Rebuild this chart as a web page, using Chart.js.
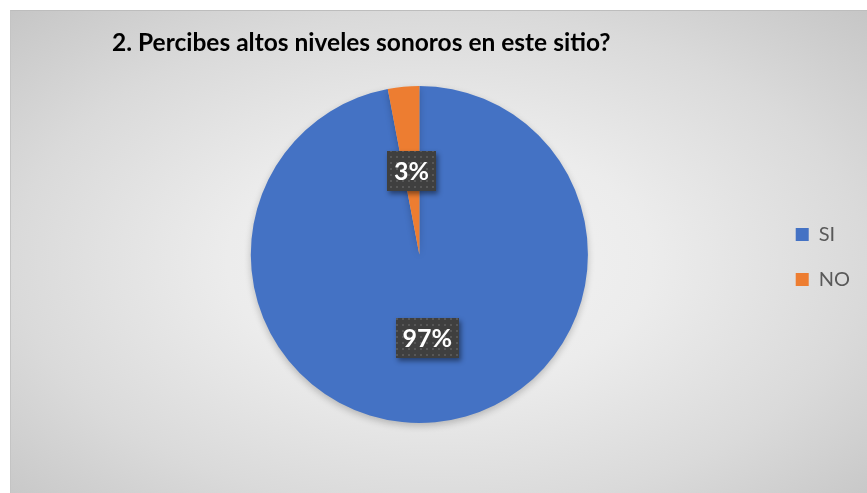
<!DOCTYPE html>
<html>
<head>
<meta charset="utf-8">
<script src="https://cdn.jsdelivr.net/npm/chart.js@4.4.1/dist/chart.umd.min.js"></script>
<style>
  html, body { margin: 0; padding: 0; background: #fff; }
  #wrap {
    position: absolute; left: 10px; top: 10px; width: 857px; height: 483px;
    box-sizing: border-box;
    border-top: 1px solid #bdbdbd; border-left: 1px solid #c4c4c4;
    background: radial-gradient(ellipse farthest-corner at 50% 52%, #f4f4f4 0%, #ececec 35%, #dadada 70%, #c6c6c6 100%);
  }
</style>
</head>
<body>
<div id="wrap"><canvas id="pie"></canvas></div>
<script>
// 数据
const titulo = '2. Percibes altos niveles sonoros en este sitio?';
const categorias = ['SI', 'NO'];
const porcentajes = [97, 3];
const colores = ['#4472C4', '#ED7D31'];

// 标签背景的点状纹理
function crearTrama(ctx) {
  const c = document.createElement('canvas');
  c.width = 6; c.height = 6;
  const g = c.getContext('2d');
  g.fillStyle = '#3f3f3f';
  g.fillRect(0, 0, 6, 6);
  g.fillStyle = '#575757';
  g.fillRect(1, 1, 2, 2);
  return ctx.createPattern(c, 'repeat');
}

// 饼图阴影
const sombraPastel = {
  id: 'sombraPastel',
  beforeDatasetsDraw(chart) {
    const ctx = chart.ctx;
    ctx.save();
    ctx.shadowColor = 'rgba(0,0,0,0.22)';
    ctx.shadowBlur = 7;
    ctx.shadowOffsetY = 3;
  },
  afterDatasetsDraw(chart) {
    chart.ctx.restore();
  }
};

// 数据标签（深色方块 + 白色粗体百分比）
const etiquetas = {
  id: 'etiquetas',
  afterDatasetsDraw(chart) {
    const ctx = chart.ctx;
    const meta = chart.getDatasetMeta(0);
    const trama = crearTrama(ctx);
    ctx.save();
    ctx.font = 'bold 25px Lato, "DejaVu Sans", sans-serif';
    ctx.textAlign = 'center';
    ctx.textBaseline = 'middle';
    meta.data.forEach((arc, i) => {
      const p = arc.tooltipPosition();
      const txt = porcentajes[i] + '%';
      const w = Math.round(ctx.measureText(txt).width + 14);
      const h = 40;
      const x = Math.round(p.x - w / 2), y = Math.round(p.y - h / 2);
      ctx.save();
      ctx.shadowColor = 'rgba(0,0,0,0.45)';
      ctx.shadowBlur = 5;
      ctx.shadowOffsetX = 2;
      ctx.shadowOffsetY = 3;
      ctx.fillStyle = '#3f3f3f';
      ctx.fillRect(x, y, w, h);
      ctx.restore();
      ctx.fillStyle = trama;
      ctx.fillRect(x, y, w, h);
      ctx.fillStyle = '#ffffff';
      ctx.fillText(txt, p.x, p.y + 1);
    });
    ctx.restore();
  }
};

// 标题与图例位置微调
const posiciones = {
  id: 'posiciones',
  afterLayout(chart) {
    const t = chart.titleBlock;
    if (t) { t.left = 101; }
    const l = chart.legend;
    if (l) { l.top += 40; l.bottom += 40; }
  }
};

new Chart(document.getElementById('pie'), {
  type: 'pie',
  data: {
    labels: categorias,
    datasets: [{
      data: porcentajes,
      backgroundColor: colores,
      borderWidth: 0,
      hoverOffset: 0
    }]
  },
  options: {
    responsive: true,
    maintainAspectRatio: false,
    animation: false,
    layout: { padding: { top: 0, left: 57, right: 7, bottom: 70 } },
    plugins: {
      title: {
        display: true,
        text: titulo,
        align: 'start',
        color: '#000000',
        font: { family: 'Lato, "DejaVu Sans", sans-serif', size: 24.5, weight: 'bold' },
        padding: { top: 17, bottom: 28.5 }
      },
      legend: {
        position: 'right',
        labels: {
          boxWidth: 13,
          boxHeight: 13,
          padding: 25,
          color: '#595959',
          font: { family: 'Lato, "DejaVu Sans", sans-serif', size: 20 }
        }
      },
      tooltip: { enabled: false }
    }
  },
  plugins: [sombraPastel, etiquetas, posiciones]
});
</script>
</body>
</html>
